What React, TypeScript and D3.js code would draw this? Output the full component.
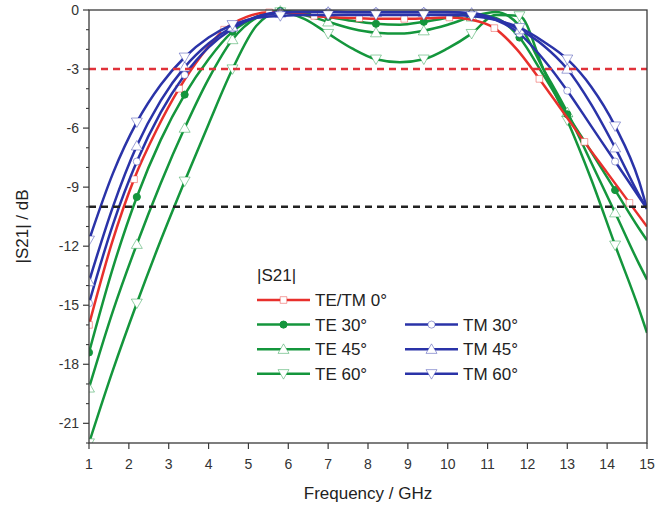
import * as d3 from "d3";

const W = 656;
const H = 512;
const M = { left: 89, right: 9, top: 10, bottom: 69 };

// frequency grid (GHz) for the oblique-incidence curves
const FREQ = [1, 1.6, 2.2, 2.8, 3.4, 4.0, 4.6, 5.2, 5.8, 6.4, 7.0, 7.6, 8.2, 8.8, 9.4, 10.0, 10.6, 11.2, 11.8, 12.4, 13.0, 13.6, 14.2, 14.8, 15];
// the normal-incidence curve was sampled on its own grid
const FREQ_0 = [1, 1.565, 2.13, 2.695, 3.26, 3.825, 4.39, 4.955, 5.52, 6.085, 6.65, 7.215, 7.78, 8.345, 8.91, 9.475, 10.04, 10.605, 11.17, 11.735, 12.3, 12.865, 13.43, 13.995, 14.56, 15];

const TETM_0 = [-16.0, -11.9, -8.6, -6.1, -4.0, -2.3, -1.0, -0.35, -0.12, -0.15, -0.3, -0.38, -0.42, -0.45, -0.45, -0.42, -0.38, -0.5, -0.92, -2.0, -3.5, -5.1, -6.7, -8.25, -9.8, -11.0];

const TE_30 = [-17.4, -13.1, -9.5, -6.6, -4.3, -2.5, -1.1, -0.35, -0.05, -0.15, -0.35, -0.55, -0.7, -0.75, -0.6, -0.4, -0.2, -0.4, -1.4, -3.3, -5.3, -7.2, -9.15, -11.1, -11.7];
const TE_45 = [-19.2, -15.3, -11.9, -8.8, -6.0, -3.5, -1.5, -0.4, -0.05, -0.25, -0.6, -0.95, -1.15, -1.2, -1.05, -0.75, -0.35, -0.1, -0.8, -3.0, -5.2, -7.75, -10.3, -12.9, -13.7];
const TE_60 = [-22.0, -18.3, -14.9, -11.7, -8.7, -5.8, -3.0, -0.8, -0.1, -0.45, -1.2, -1.95, -2.5, -2.65, -2.5, -1.95, -1.2, -0.25, -0.3, -3.0, -5.6, -8.6, -11.95, -15.2, -16.4];

const TM_30 = [-14.9, -10.9, -7.7, -5.2, -3.3, -1.9, -0.95, -0.35, -0.1, -0.08, -0.08, -0.1, -0.1, -0.1, -0.1, -0.1, -0.2, -0.5, -1.2, -2.5, -4.1, -5.9, -7.7, -9.5, -10.1];
const TM_45 = [-13.8, -10.0, -6.9, -4.6, -2.9, -1.7, -0.85, -0.35, -0.15, -0.1, -0.1, -0.12, -0.12, -0.12, -0.12, -0.12, -0.15, -0.45, -1.0, -1.8, -3.0, -4.8, -7.0, -9.4, -10.1];
const TM_60 = [-11.7, -8.3, -5.7, -3.8, -2.4, -1.4, -0.75, -0.4, -0.3, -0.25, -0.25, -0.25, -0.25, -0.25, -0.25, -0.25, -0.3, -0.5, -0.9, -1.6, -2.5, -3.9, -5.9, -8.7, -10.1];

const X_TICKS = [1, 2, 3, 4, 5, 6, 7, 8, 9, 10, 11, 12, 13, 14, 15];
const Y_TICKS = [0, -3, -6, -9, -12, -15, -18, -21];
const Y_MINOR = [-1, -2, -4, -5, -7, -8, -10, -11, -13, -14, -16, -17, -19, -20, -22];
const REF_LEVELS = [
  { db: -3, color: "#e0323a" },
  { db: -10, color: "#222222" },
];

const RED = "#e8302c";
const GREEN = "#14963c";
const BLUE = "#2a33a8";

type Mk = "square" | "circle" | "up" | "down";
const SERIES: { label: string; freq: number[]; db: number[]; color: string; marker: Mk; filled: boolean }[] = [
  { label: "TE 60°", freq: FREQ, db: TE_60, color: GREEN, marker: "down", filled: false },
  { label: "TE 45°", freq: FREQ, db: TE_45, color: GREEN, marker: "up", filled: false },
  { label: "TE 30°", freq: FREQ, db: TE_30, color: GREEN, marker: "circle", filled: true },
  { label: "TE/TM 0°", freq: FREQ_0, db: TETM_0, color: RED, marker: "square", filled: false },
  { label: "TM 30°", freq: FREQ, db: TM_30, color: BLUE, marker: "circle", filled: false },
  { label: "TM 45°", freq: FREQ, db: TM_45, color: BLUE, marker: "up", filled: false },
  { label: "TM 60°", freq: FREQ, db: TM_60, color: BLUE, marker: "down", filled: false },
];

const LEGEND_LEFT = ["TE/TM 0°", "TE 30°", "TE 45°", "TE 60°"];
const LEGEND_RIGHT = ["", "TM 30°", "TM 45°", "TM 60°"];

const FONT = "'Liberation Sans', Arial, Helvetica, sans-serif";

function symbolPath(m: Mk) {
  if (m === "square") return d3.symbol(d3.symbolSquare, 44)()!;
  if (m === "circle") return d3.symbol(d3.symbolCircle, 40)()!;
  return d3.symbol(d3.symbolTriangle, 52)()!;
}

function Marker({ x, y, s }: { x: number; y: number; s: (typeof SERIES)[number] }) {
  const rot = s.marker === "down" ? " rotate(180)" : "";
  const dy = s.marker === "up" ? 1 : s.marker === "down" ? -1 : 0;
  return (
    <path
      d={symbolPath(s.marker)}
      transform={`translate(${x},${y + dy})${rot}`}
      fill={s.filled ? s.color : "#ffffff"}
      stroke={s.color}
      strokeOpacity={s.filled ? 1 : 0.45}
      strokeWidth={1}
    />
  );
}

export default function App() {
  const x = d3.scaleLinear().domain([1, 15]).range([M.left, W - M.right]);
  const y = d3.scaleLinear().domain([-22, 0]).range([H - M.bottom, M.top]);
  const x0 = M.left;
  const x1 = W - M.right;
  const y0 = H - M.bottom;
  const y1 = M.top;

  const line = d3
    .line<[number, number]>()
    .x((d) => x(d[0]))
    .y((d) => y(d[1]))
    .curve(d3.curveMonotoneX);

  const byLabel = (l: string) => SERIES.find((s) => s.label === l)!;

  const legX = 257;
  const legY = 300;
  const legDy = 24.6;

  return (
    <svg
      width={W}
      height={H}
      viewBox={`0 0 ${W} ${H}`}
      style={{ position: "absolute", left: 0, top: 0, background: "#fff" }}
      fontFamily={FONT}
    >
      <defs>
        <clipPath id="plot">
          <rect x={x0} y={y1 - 6} width={x1 - x0} height={y0 - y1 + 6} />
        </clipPath>
      </defs>

      {/* curves */}
      <g clipPath="url(#plot)">
        {SERIES.map((s) => (
          <g key={s.label}>
            <path
              d={line(s.freq.map((f, i) => [f, s.db[i]] as [number, number]))!}
              fill="none"
              stroke={s.color}
              strokeWidth={2.5}
            />
            {s.freq.map((f, i) =>
              i % 2 === 0 && i < s.freq.length - 1 ? (
                <Marker key={i} x={x(f)} y={y(s.db[i])} s={s} />
              ) : null
            )}
          </g>
        ))}
      </g>

      {/* reference levels */}
      {REF_LEVELS.map((r) => (
        <line
          key={r.db}
          x1={x0}
          x2={x1}
          y1={y(r.db)}
          y2={y(r.db)}
          stroke={r.color}
          strokeWidth={2.4}
          strokeDasharray="7,5"
        />
      ))}

      {/* frame */}
      <rect x={x0} y={y1} width={x1 - x0} height={y0 - y1} fill="none" stroke="#3a3a3a" strokeWidth={1.3} />

      {/* y axis */}
      {Y_MINOR.map((t) => (
        <line key={t} x1={x0 - 3} x2={x0} y1={y(t)} y2={y(t)} stroke="#3a3a3a" strokeWidth={1.1} />
      ))}
      {Y_TICKS.map((t) => (
        <g key={t}>
          <line x1={x0 - 6} x2={x0} y1={y(t)} y2={y(t)} stroke="#3a3a3a" strokeWidth={1.2} />
          <text x={x0 - 10} y={y(t)} dy="0.35em" textAnchor="end" fontSize={14} fill="#333">
            {t}
          </text>
        </g>
      ))}

      {/* x axis */}
      {X_TICKS.map((t) => (
        <g key={t}>
          <line x1={x(t)} x2={x(t)} y1={y0} y2={y0 + 6} stroke="#3a3a3a" strokeWidth={1.2} />
          <text x={x(t)} y={y0 + 26} textAnchor="middle" fontSize={14} fill="#333">
            {t}
          </text>
        </g>
      ))}

      <text x={(x0 + x1) / 2} y={499} textAnchor="middle" fontSize={17} fill="#222">
        Frequency / GHz
      </text>
      <text
        transform={`translate(28,${(y0 + y1) / 2}) rotate(-90)`}
        textAnchor="middle"
        fontSize={17}
        fill="#222"
      >
        |S21| / dB
      </text>

      {/* legend */}
      <text x={legX} y={281} fontSize={17} fill="#222">
        |S21|
      </text>
      {[LEGEND_LEFT, LEGEND_RIGHT].map((col, ci) =>
        col.map((l, ri) => {
          if (!l) return null;
          const s = byLabel(l);
          const lx = legX + ci * 148;
          const ly = legY + ri * legDy;
          return (
            <g key={l}>
              <line x1={lx} x2={lx + 53} y1={ly} y2={ly} stroke={s.color} strokeWidth={2.5} />
              <Marker x={lx + 26.5} y={ly} s={s} />
              <text x={lx + 58} y={ly} dy="0.36em" fontSize={17} fill="#222">
                {l}
              </text>
            </g>
          );
        })
      )}
    </svg>
  );
}
